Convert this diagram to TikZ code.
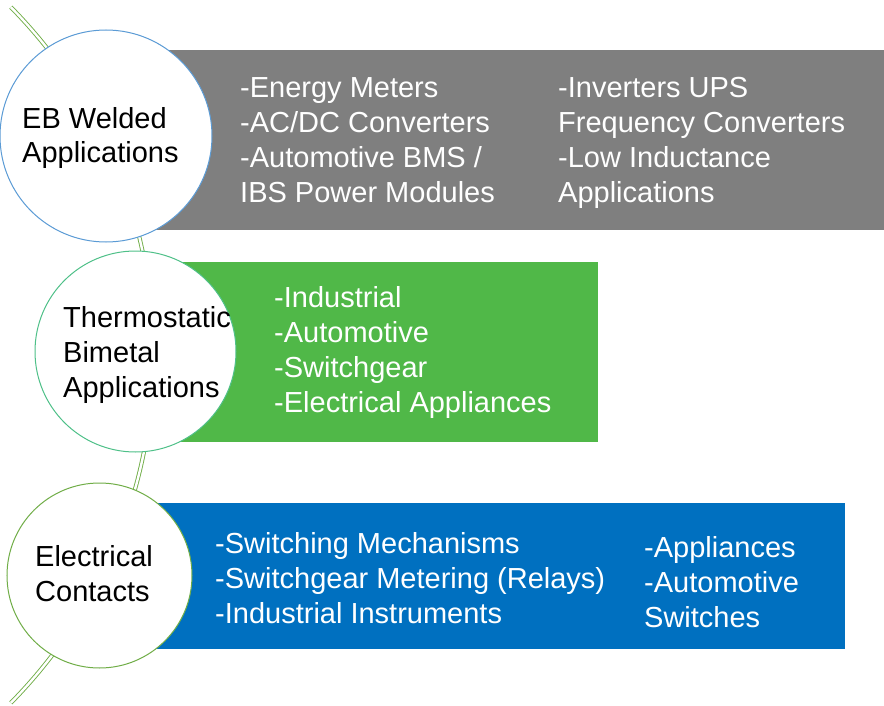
\documentclass[tikz,border=0pt]{standalone}
\usepackage{fontspec}
\setmainfont{Liberation Sans}
\definecolor{ebgray}{HTML}{7F7F7F}
\definecolor{bigreen}{RGB}{80,184,72}
\definecolor{ecblue}{HTML}{0070C0}
\definecolor{ebring}{HTML}{5B9BD5}
\definecolor{biring}{RGB}{78,192,136}
\definecolor{ecring}{HTML}{70AD47}

\begin{document}
\begin{tikzpicture}[x=1pt,y=-1pt,
    bubble/.style = {draw, circle, fill=white, line width=1pt, inner sep=0pt},
    title/.style = {anchor=base west, inner sep=0pt, align=left, font=\fontsize{29}{34.7}\selectfont},
    items/.style = {title, text=white},
    rail/.style = {draw=ecring, line width=0.9pt, double=white, double distance=2.4pt}]
    \useasboundingbox (0,0) rectangle (884,706);
    \draw[rail] (-342,355) ++(-44.6:495.5) arc[start angle=-44.6, end angle=44.6, radius=495.5];
    \fill[ebgray] (106,50) rectangle (884,230);
    \fill[bigreen] (135,262) rectangle (598,442);
    \fill[ecblue] (100,503) rectangle (845,649);
    \node at (106,136) [bubble,draw=ebring,minimum size=212pt] (1) {};
    \node at (135.5,351.5) [bubble,draw=biring,minimum size=201pt] (2) {};
    \node at (99.5,575.5) [bubble,draw=ecring,minimum size=185pt] (3) {};
    \node at (22,163) [title] (1t) {EB Welded\\Applications};
    \node at (63,397) [title] (2t) {Thermostatic\\Bimetal\\Applications};
    \node at (35,601) [title] (3t) {Electrical\\Contacts};
    \node at (240,202) [items] (1a) {-Energy Meters\\-AC/DC Converters\\-Automotive BMS /\\IBS Power Modules};
    \node at (558,202) [items] (1b) {-Inverters UPS\\Frequency Converters\\-Low Inductance\\Applications};
    \node at (274,412) [items] (2a) {-Industrial\\-Automotive\\-Switchgear\\-Electrical Appliances};
    \node at (215,623) [items] (3a) {-Switching Mechanisms\\-Switchgear Metering (Relays)\\-Industrial Instruments};
    \node at (644,627) [items] (3b) {-Appliances\\-Automotive\\Switches};
\end{tikzpicture}
\end{document}
